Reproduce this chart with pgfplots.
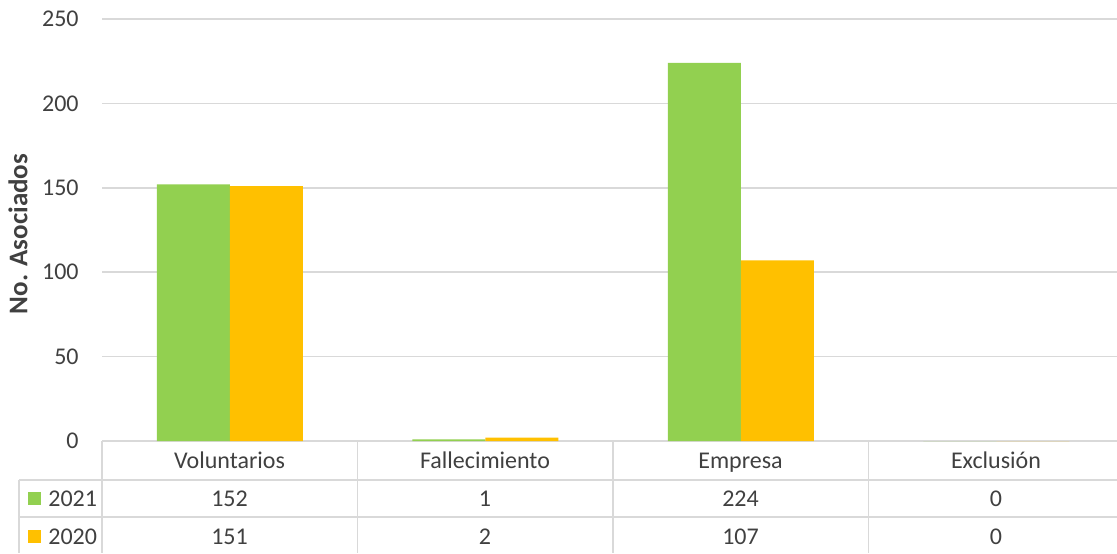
\documentclass[border=0pt]{standalone}
\usepackage{pgfplots}
\pgfplotsset{compat=1.18}
\usepackage{fontspec}
\setmainfont{Carlito}
\definecolor{txt}{HTML}{404040}
\definecolor{gridc}{HTML}{D9D9D9}
\definecolor{gA}{HTML}{92D050}
\definecolor{oB}{HTML}{FFC000}
\begin{document}
\begin{tikzpicture}[x=0.5pt,y=0.5pt]
\useasboundingbox (0,0) rectangle (1117,553);
\begin{axis}[
  at={(51pt,56pt)}, anchor=south west,
  scale only axis, width=511pt, height=211pt,
  xmin=-0.5, xmax=3.5, ymin=0, ymax=250,
  ytick={0,50,100,150,200,250}, xtick=\empty,
  axis line style={draw=none},
  ymajorgrids, grid style={gridc, line width=0.75pt},
  major tick length=0pt,
  /pgf/number format/assume math mode=true,
  yticklabel style={font=\fontsize{12}{14}\selectfont, text=txt, anchor=east, inner sep=0pt, xshift=-11.5pt},
  ybar=0pt, bar width=36.5pt, clip=false,
]
\addplot[fill=gA, draw=none] coordinates {(0,152) (1,1) (2,224) (3,0)};
\addplot[fill=oB, draw=none] coordinates {(0,151) (1,2) (2,107) (3,0)};
\end{axis}
\node[rotate=90, text=txt, font=\fontsize{13.5}{15}\selectfont\bfseries] at (18,319) {No. Asociados};
\begin{scope}[gridc, line width=0.75pt]
\draw (19,73) -- (1117,73);
\draw (19,36) -- (1117,36);
\draw (19,73) -- (19,0);
\draw (102,112) -- (102,0);
\draw (357.5,112) -- (357.5,0);
\draw (613,112) -- (613,0);
\draw (868.5,112) -- (868.5,0);
\end{scope}
\begin{scope}[every node/.style={text=txt, font=\fontsize{12}{14}\selectfont, inner sep=0pt, text height=8.6pt, text depth=2.6pt}]
\node at (229.5,90.5) {Voluntarios};
\node at (485,90.5) {Fallecimiento};
\node at (740.5,90.5) {Empresa};
\node at (996,90.5) {Exclusión};
\fill[gA] (28,48) rectangle (41,61);
\fill[oB] (28,10) rectangle (41,23);
\node[anchor=west] at (48,53) {2021};
\node[anchor=west] at (48,15) {2020};
\node at (229.5,53) {152};
\node at (485,53) {1};
\node at (740.5,53) {224};
\node at (996,53) {0};
\node at (229.5,15) {151};
\node at (485,15) {2};
\node at (740.5,15) {107};
\node at (996,15) {0};
\end{scope}
\end{tikzpicture}
\end{document}
